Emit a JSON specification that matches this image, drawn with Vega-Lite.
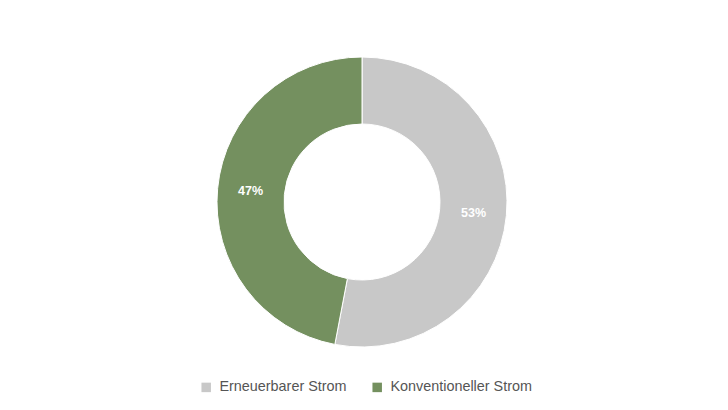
{
  "$schema": "https://vega.github.io/schema/vega-lite/v6.json",
  "width": 724,
  "height": 404,
  "autosize": {"type": "none"},
  "padding": 0,
  "background": "white",
  "config": {"view": {"stroke": null}, "font": "Liberation Sans"},
  "data": {
    "values": [
      {"art": "Erneuerbarer Strom", "anteil": 0.53, "ord": 1},
      {"art": "Konventioneller Strom", "anteil": 0.47, "ord": 2}
    ]
  },
  "encoding": {
    "theta": {"field": "anteil", "type": "quantitative", "stack": true},
    "order": {"field": "ord", "type": "quantitative"}
  },
  "layer": [
    {
      "mark": {"type": "arc", "outerRadius": 145, "innerRadius": 78, "stroke": "white", "strokeWidth": 1},
      "encoding": {
        "color": {
          "field": "art",
          "type": "nominal",
          "sort": ["Erneuerbarer Strom", "Konventioneller Strom"],
          "scale": {"domain": ["Erneuerbarer Strom", "Konventioneller Strom"], "range": ["#c8c8c8", "#74905f"]},
          "legend": {
            "title": null,
            "orient": "none",
            "direction": "horizontal",
            "legendX": 199,
            "legendY": 380,
            "symbolType": "square",
            "symbolSize": 90,
            "symbolStrokeWidth": 0,
            "labelFontSize": 14.4,
            "labelColor": "#555555",
            "labelFont": "Liberation Sans",
            "columnPadding": 23,
            "labelOffset": 6
          }
        }
      }
    },
    {
      "mark": {"type": "text", "radius": 112, "color": "white", "fontWeight": "bold", "fontSize": 12.5},
      "encoding": {
        "text": {"field": "anteil", "type": "quantitative", "format": ".0%"},
        "detail": {"field": "art"}
      }
    }
  ]
}
